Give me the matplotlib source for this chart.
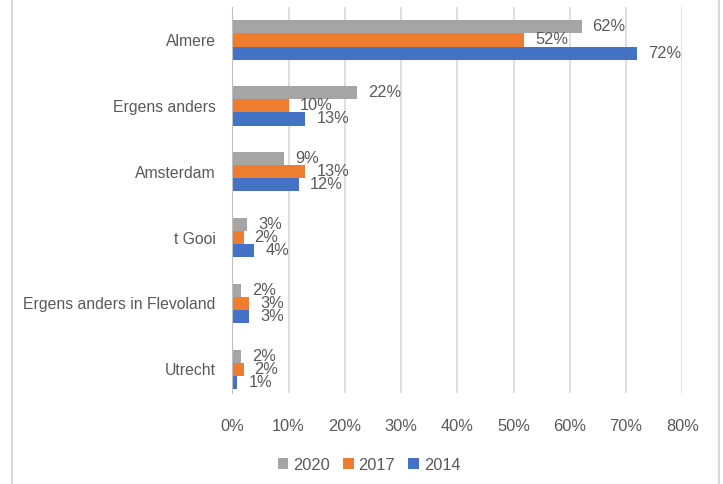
import numpy as np
import matplotlib
matplotlib.use("Agg")
import matplotlib.pyplot as plt
from matplotlib.lines import Line2D

matplotlib.rcParams['font.family'] = ['Liberation Sans', 'DejaVu Sans']

categories = ["Almere", "Ergens anders", "Amsterdam", "t Gooi",
              "Ergens anders in Flevoland", "Utrecht"]
years = ["2020", "2017", "2014"]
v2020 = [0.621, 0.222, 0.092, 0.027, 0.016, 0.016]
v2017 = [0.519, 0.100, 0.130, 0.020, 0.030, 0.020]
v2014 = [0.719, 0.130, 0.119, 0.039, 0.030, 0.009]
labels2020 = ["62%", "22%", "9%", "3%", "2%", "2%"]
labels2017 = ["52%", "10%", "13%", "2%", "3%", "2%"]
labels2014 = ["72%", "13%", "12%", "4%", "3%", "1%"]
colors = ["#A5A5A5", "#ED7D31", "#4472C4"]
xticks = np.arange(0, 0.81, 0.1)

text_color = "#595959"
grid_color = "#D9D9D9"
fs = 11.8

W, H = 723, 484
fig = plt.figure(figsize=(W / 100, H / 100), dpi=100)
left, right, top, bottom = 232.3, 682.3, 7, 393
ax = fig.add_axes([left / W, 1 - bottom / H, (right - left) / W, (bottom - top) / H])

y = np.arange(len(categories))
bh = 0.2
series = [(v2020, labels2020), (v2017, labels2017), (v2014, labels2014)]
for k, (vals, labs) in enumerate(series):
    pos = y + (k - 1) * bh
    ax.barh(pos, vals, height=bh, color=colors[k], label=years[k], zorder=3)
    for p, v, t in zip(pos, vals, labs):
        ax.annotate(t, (v, p), xytext=(11, 0), textcoords="offset pixels",
                    ha="left", va="center", fontsize=fs, color=text_color, zorder=4)

ax.set_xlim(0, 0.8)
ax.set_ylim(5.36, -0.5)
ax.set_yticks(y)
ax.set_yticklabels(categories)
ax.set_xticks(xticks)
ax.set_xticklabels([f"{int(round(t * 100))}%" for t in xticks])
ax.tick_params(axis="both", length=0, colors=text_color, labelsize=fs)
ax.tick_params(axis="y", pad=12, labelsize=11.3)
ax.tick_params(axis="x", pad=19)
ax.grid(axis="x", color=grid_color, linewidth=1.2, zorder=0)
for s in ["top", "right", "bottom"]:
    ax.spines[s].set_visible(False)
ax.spines["left"].set_color("#BFBFBF")
ax.spines["left"].set_zorder(5)

handles, labels = ax.get_legend_handles_labels()
fig.legend(handles, labels, loc="center", bbox_to_anchor=(369 / W, 1 - 465 / H),
           ncol=3, frameon=False, fontsize=fs, labelcolor=text_color,
           handlelength=0.65, handleheight=0.65, handletextpad=0.3, columnspacing=0.8)

for xp in [11.5, 719]:
    fig.add_artist(Line2D([xp / W, xp / W], [0, 1], color=grid_color, linewidth=1.5))

fig.savefig("out.png", dpi=100)
